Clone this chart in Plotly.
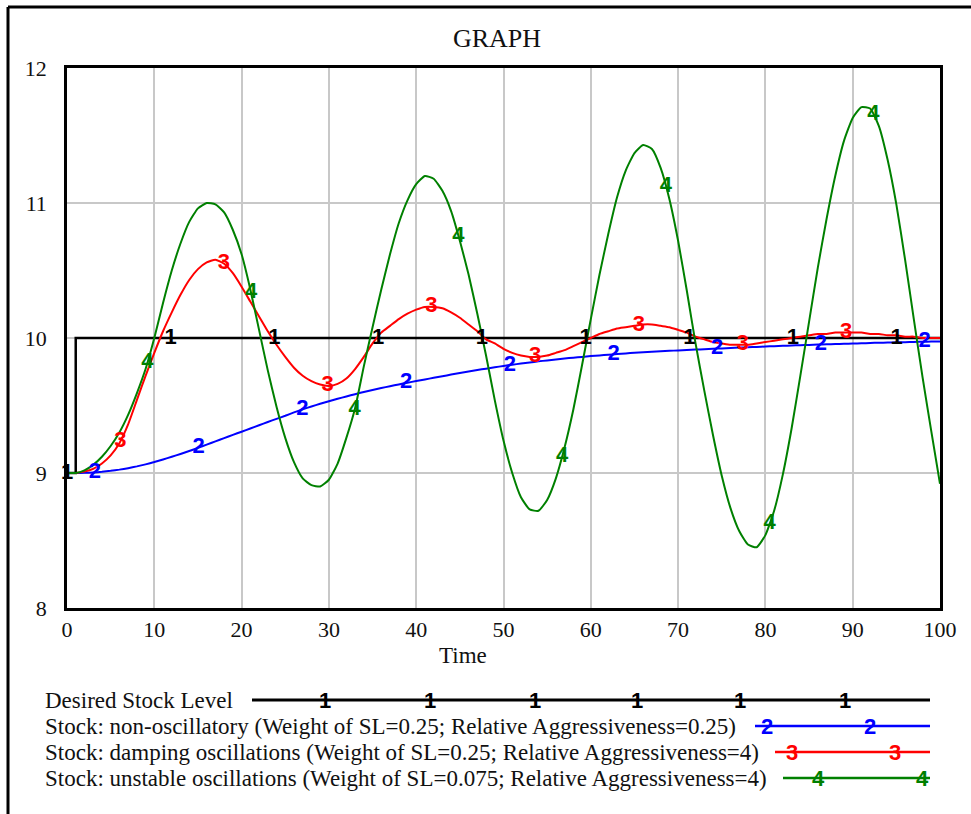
import numpy as np
import plotly.graph_objects as go

# ---- data -------------------------------------------------------------
time = list(range(0, 101))

desired_stock = [9] + [10] * 100

stock_non_oscillatory = [
    9.000, 9.000, 9.001, 9.004, 9.009, 9.016, 9.025, 9.036, 9.049, 9.064,
    9.081, 9.100, 9.120, 9.141, 9.163, 9.186, 9.210, 9.234, 9.258, 9.282,
    9.306, 9.330, 9.354, 9.378, 9.401, 9.424, 9.449, 9.472, 9.493, 9.513,
    9.532, 9.550, 9.567, 9.584, 9.600, 9.615, 9.629, 9.643, 9.656, 9.669,
    9.681, 9.693, 9.705, 9.717, 9.729, 9.741, 9.752, 9.763, 9.773, 9.783,
    9.793, 9.802, 9.811, 9.819, 9.827, 9.834, 9.841, 9.848, 9.854, 9.860,
    9.866, 9.871, 9.876, 9.881, 9.886, 9.890, 9.894, 9.898, 9.902, 9.905,
    9.908, 9.911, 9.914, 9.917, 9.920, 9.923, 9.926, 9.929, 9.932, 9.934,
    9.937, 9.939, 9.942, 9.944, 9.947, 9.949, 9.951, 9.953, 9.955, 9.957,
    9.959, 9.961, 9.963, 9.965, 9.966, 9.968, 9.969, 9.971, 9.972, 9.974,
    9.975,
]

stock_damping = [
    9.00, 9.00, 9.01, 9.03, 9.07, 9.13, 9.22, 9.36, 9.54, 9.72,
    9.89, 10.05, 10.19, 10.32, 10.43, 10.51, 10.56, 10.58, 10.55, 10.48,
    10.38, 10.27, 10.16, 10.05, 9.95, 9.86, 9.78, 9.72, 9.68, 9.655,
    9.645, 9.66, 9.70, 9.77, 9.86, 9.96, 10.04, 10.09, 10.14, 10.18,
    10.21, 10.23, 10.23, 10.22, 10.19, 10.15, 10.10, 10.05, 9.99, 9.96,
    9.92, 9.89, 9.87, 9.86, 9.86, 9.87, 9.89, 9.91, 9.94, 9.97,
    10.00, 10.03, 10.05, 10.07, 10.08, 10.09, 10.10, 10.10, 10.09, 10.08,
    10.06, 10.04, 10.01, 9.99, 9.97, 9.96, 9.95, 9.95, 9.95, 9.96,
    9.97, 9.98, 9.99, 10.00, 10.01, 10.02, 10.03, 10.03, 10.04, 10.04,
    10.04, 10.04, 10.03, 10.03, 10.02, 10.02, 10.01, 10.01, 10.00, 10.00,
    10.00,
]

stock_unstable = [
    9.00, 9.00, 9.02, 9.06, 9.12, 9.20, 9.30, 9.43, 9.59, 9.77,
    10.00, 10.26, 10.50, 10.70, 10.86, 10.96, 11.00, 10.99, 10.93, 10.80,
    10.62, 10.36, 10.06, 9.76, 9.49, 9.26, 9.08, 8.96, 8.91, 8.90,
    8.95, 9.07, 9.26, 9.48, 9.79, 10.08, 10.36, 10.62, 10.85, 11.02,
    11.14, 11.20, 11.18, 11.09, 10.94, 10.72, 10.47, 10.18, 9.87, 9.54,
    9.24, 9.00, 8.82, 8.73, 8.72, 8.80, 8.96, 9.19, 9.47, 9.80,
    10.14, 10.47, 10.77, 11.04, 11.24, 11.37, 11.43, 11.40, 11.26, 11.03,
    10.72, 10.35, 9.96, 9.61, 9.28, 8.98, 8.74, 8.57, 8.47, 8.45,
    8.54, 8.72, 8.99, 9.33, 9.72, 10.12, 10.52, 10.88, 11.20, 11.46,
    11.63, 11.71, 11.70, 11.57, 11.32, 10.99, 10.58, 10.14, 9.71, 9.31,
    8.92,
]

series_names = [
    "Desired Stock Level",
    "Stock: non-oscillatory (Weight of SL=0.25; Relative Aggressiveness=0.25)",
    "Stock: damping oscillations (Weight of SL=0.25; Relative Aggressiveness=4)",
    "Stock: unstable oscillations (Weight of SL=0.075; Relative Aggressiveness=4)",
]
series_tags = ["1", "2", "3", "4"]
x_ticks = list(range(0, 101, 10))
y_ticks = [8, 9, 10, 11, 12]

# ---- styling ----------------------------------------------------------
W, H = 971, 814
ML, MR, MT, MB = 67, 31, 68, 206
PW, PH = W - ML - MR, H - MT - MB
colors = ["#000000", "#0000ff", "#ff0000", "#008000"]
widths = [2.5, 2, 2, 2]
serif = "Liberation Serif, Times New Roman, serif"
tag_font = "Liberation Sans, Arial, sans-serif"
TAG_SIZE = 22
TEXT_SIZE = 23


def px(x):
    return (x - ML) / PW


def py(y):
    return (H - MB - y) / PH


fig = go.Figure()

all_series = [desired_stock, stock_non_oscillatory, stock_damping, stock_unstable]
for i, (name, vals) in enumerate(zip(series_names, all_series)):
    fig.add_trace(go.Scatter(
        x=time, y=vals, mode="lines", name=name,
        line=dict(color=colors[i], width=widths[i],
                  shape="hv" if i == 0 else "spline", smoothing=0.5),
        showlegend=False, hoverinfo="skip",
    ))

# numbered tags along each curve, as a simulation package draws them
tag_step = 11.88
tag_start = [0.0, 3.2, 6.1, 9.2]
for i, vals in enumerate(all_series):
    tt = np.arange(tag_start[i], 100.0, tag_step)
    yy = np.interp(tt, time, vals)
    if i == 0:
        yy = np.where(tt < 1, desired_stock[0], desired_stock[-1])
    fig.add_trace(go.Scatter(
        x=tt, y=yy, mode="text", text=[series_tags[i]] * len(tt),
        textposition="middle center",
        textfont=dict(family=tag_font, size=TAG_SIZE, color=colors[i], weight="bold"),
        showlegend=False, hoverinfo="skip", cliponaxis=False,
    ))

shapes = []
annotations = []

# outer frame (top and left edges)
shapes.append(dict(type="line", xref="paper", yref="paper",
                   x0=px(8), x1=px(975), y0=py(7), y1=py(7),
                   line=dict(color="black", width=3)))
shapes.append(dict(type="line", xref="paper", yref="paper",
                   x0=px(8), x1=px(8), y0=py(7), y1=py(818),
                   line=dict(color="black", width=3)))

# bottom legend: label text, sample line and numbered tags
row_y = [700, 726, 752, 778]
line_x0 = [252, 755, 775, 783]
line_x1 = 930
tag_x = [
    [325, 430, 535, 637, 740, 845],
    [767, 870],
    [792, 895],
    [818, 922],
]
for i, name in enumerate(series_names):
    annotations.append(dict(
        x=px(43), y=py(row_y[i]), xref="paper", yref="paper",
        text=name, showarrow=False, xanchor="left", yanchor="middle",
        font=dict(family=serif, size=TEXT_SIZE, color="#111111"),
    ))
    shapes.append(dict(type="line", xref="paper", yref="paper",
                       x0=px(line_x0[i]), x1=px(line_x1),
                       y0=py(row_y[i]), y1=py(row_y[i]),
                       line=dict(color=colors[i], width=widths[i] + 0.5)))
    for tx in tag_x[i]:
        annotations.append(dict(
            x=px(tx), y=py(row_y[i]), xref="paper", yref="paper",
            text=series_tags[i], showarrow=False,
            xanchor="center", yanchor="middle",
            font=dict(family=tag_font, size=TAG_SIZE, color=colors[i], weight="bold"),
        ))

# x-axis caption
annotations.append(dict(
    x=px(463), y=py(655), xref="paper", yref="paper", text="Time",
    showarrow=False, xanchor="center", yanchor="middle",
    font=dict(family=serif, size=TEXT_SIZE, color="#111111"),
))

fig.update_layout(
    width=W, height=H,
    margin=dict(l=ML, r=MR, t=MT, b=MB),
    paper_bgcolor="white", plot_bgcolor="white",
    title=dict(text="GRAPH", x=497 / W, xref="container",
               y=1 - 38 / H, yref="container", xanchor="center", yanchor="middle",
               font=dict(family=serif, size=26, color="#111111")),
    shapes=shapes, annotations=annotations,
    showlegend=False,
)
fig.update_xaxes(
    range=[0, 100], tickvals=x_ticks, ticktext=[str(v) for v in x_ticks],
    showgrid=True, gridcolor="#c8c8c8", gridwidth=1.5,
    showline=True, linecolor="black", linewidth=2.5, mirror=True,
    ticks="", zeroline=False, ticklabelstandoff=0,
    tickfont=dict(family=serif, size=22, color="#111111"),
)
fig.update_yaxes(
    range=[8, 12], tickvals=y_ticks, ticktext=[str(v) for v in y_ticks],
    showgrid=True, gridcolor="#c8c8c8", gridwidth=1.5,
    showline=True, linecolor="black", linewidth=2.5, mirror=True,
    ticks="", zeroline=False, ticklabelstandoff=13,
    tickfont=dict(family=serif, size=22, color="#111111"),
)

fig.write_html("out.html")
